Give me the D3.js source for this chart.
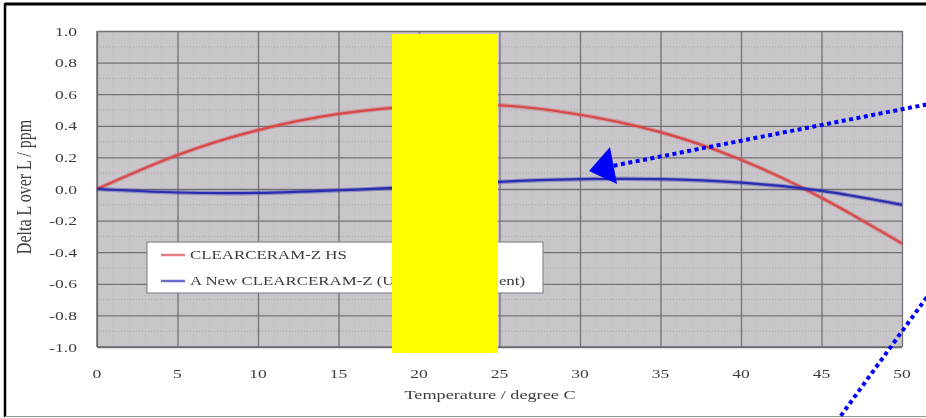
<!DOCTYPE html>
<html>
<head>
<meta charset="utf-8">
<script src="https://cdn.jsdelivr.net/npm/d3@7"></script>
<style>
  html, body { margin: 0; padding: 0; background: #fff; }
  svg { display: block; }
</style>
</head>
<body>
<svg id="chart" width="926" height="418"></svg>
<script>
// Temperature samples (degree C)
const temps = [0, 5, 10, 15, 20, 25, 30, 35, 40, 45, 50];
// Delta L over L (ppm) for each material
const hsValues  = [0, 0.215, 0.373, 0.475, 0.525, 0.53, 0.47, 0.36, 0.185, -0.055, -0.345];
const newValues = [0, -0.022, -0.025, -0.008, 0.015, 0.045, 0.062, 0.062, 0.04, -0.012, -0.1];
const seriesNames = ["CLEARCERAM-Z HS", "A New CLEARCERAM-Z (Under Development)"];
const seriesColors = ["#d84848", "#2c2cb0"];
const xTicks = [0, 5, 10, 15, 20, 25, 30, 35, 40, 45, 50];
const yTicks = [-1.0, -0.8, -0.6, -0.4, -0.2, 0.0, 0.2, 0.4, 0.6, 0.8, 1.0];
const xTitle = "Temperature / degree C";
const yTitle = "Delta L over L / ppm";

const svg = d3.select("#chart");
const plot = { left: 97, right: 902, top: 31, bottom: 347 };

const x = d3.scaleLinear().domain([0, 50]).range([plot.left, plot.right]);
const y = d3.scaleLinear().domain([-1, 1]).range([plot.bottom, plot.top]);

const defs = svg.append("defs");
defs.append("filter").attr("id", "soft")
  .append("feGaussianBlur").attr("stdDeviation", 0.45);

// outer frame
svg.append("line").attr("x1", 5).attr("x2", 926).attr("y1", 4).attr("y2", 4)
  .attr("stroke", "#000").attr("stroke-width", 3);
svg.append("line").attr("x1", 5).attr("x2", 5).attr("y1", 3).attr("y2", 417)
  .attr("stroke", "#000").attr("stroke-width", 2.5);
svg.append("line").attr("x1", 5).attr("x2", 926).attr("y1", 416.5).attr("y2", 416.5)
  .attr("stroke", "#999").attr("stroke-width", 1);

// plot background
svg.append("rect")
  .attr("x", plot.left).attr("y", plot.top)
  .attr("width", plot.right - plot.left).attr("height", plot.bottom - plot.top)
  .attr("fill", "#c9c6cb");

// minor dotted grid
const minorY = d3.range(-0.9, 1.0, 0.2);
const minorX = d3.range(1, 50, 1).filter(d => d % 5 !== 0);
svg.append("g").selectAll("line").data(minorY).join("line")
  .attr("x1", plot.left).attr("x2", plot.right)
  .attr("y1", d => y(d)).attr("y2", d => y(d))
  .attr("stroke", "#aaa7ac").attr("stroke-width", 1).attr("stroke-dasharray", "1 2");
svg.append("g").selectAll("line").data(minorX).join("line")
  .attr("y1", plot.top).attr("y2", plot.bottom)
  .attr("x1", d => x(d)).attr("x2", d => x(d))
  .attr("stroke", "#b8b5ba").attr("stroke-width", 1).attr("stroke-dasharray", "1 3");

// major grid through the library's axes
const gy = svg.append("g").attr("transform", `translate(${plot.left},0)`)
  .call(d3.axisLeft(y).tickValues(yTicks).tickSize(-(plot.right - plot.left)).tickFormat(""));
gy.select(".domain").remove();
gy.selectAll("line").attr("stroke", "#747176").attr("stroke-width", 1.3);

const gx = svg.append("g").attr("transform", `translate(0,${plot.bottom})`)
  .call(d3.axisBottom(x).tickValues(xTicks).tickSize(-(plot.bottom - plot.top)).tickFormat(""));
gx.select(".domain").remove();
gx.selectAll("line").attr("stroke", "#747176").attr("stroke-width", 1.3);

// axis lines
svg.append("line").attr("x1", plot.left).attr("x2", plot.right)
  .attr("y1", plot.bottom).attr("y2", plot.bottom).attr("stroke", "#6c6a6e").attr("stroke-width", 1.5);
svg.append("line").attr("x1", plot.left).attr("x2", plot.left)
  .attr("y1", plot.top).attr("y2", plot.bottom).attr("stroke", "#6c6a6e").attr("stroke-width", 1.5);

// text helper: wide serif lettering
function label(parent, str, px, py, size, anchor, rotate) {
  return parent.append("text")
    .attr("transform", rotate
      ? `translate(${px},${py}) rotate(-90) scale(1,1.35)`
      : `translate(${px},${py}) scale(1.35,1)`)
    .attr("text-anchor", anchor)
    .attr("font-family", "'Liberation Serif', 'Times New Roman', serif")
    .attr("font-size", size)
    .attr("fill", "#3c3c3c")
    .text(str);
}
const textLayer = svg.append("g").attr("filter", "url(#soft)");

// tick labels
const fmt = d3.format(".1f");
yTicks.forEach(v => label(textLayer, fmt(v).replace("\u2212", "-"), 77, y(v) + 4.5, 13, "end"));
xTicks.forEach(v => label(textLayer, String(v), x(v), 378, 13, "middle"));

// axis titles
label(textLayer, xTitle, 490, 399, 13.5, "middle");
label(textLayer, yTitle, 31, 187, 16, "middle", true);

// series lines
const line = d3.line().x(d => x(d[0])).y(d => y(d[1])).curve(d3.curveNatural);
[hsValues, newValues].forEach((vals, i) => {
  const pts = temps.map((t, k) => [t, vals[k]]);
  svg.append("path").datum(pts)
    .attr("d", line).attr("fill", "none")
    .attr("stroke", seriesColors[i]).attr("stroke-opacity", 0.35).attr("stroke-width", 4.5);
  svg.append("path").datum(pts)
    .attr("d", line).attr("fill", "none")
    .attr("stroke", seriesColors[i]).attr("stroke-width", 2.2);
});

// legend
const lg = { x: 147, y: 242, w: 396, h: 51 };
svg.append("rect").attr("x", lg.x).attr("y", lg.y).attr("width", lg.w).attr("height", lg.h)
  .attr("fill", "#fff").attr("stroke", "#8a888c").attr("stroke-width", 1.2);
const legendText = svg.append("g").attr("filter", "url(#soft)");
seriesNames.forEach((name, i) => {
  const ly = lg.y + 13 + i * 26;
  svg.append("line").attr("x1", lg.x + 14).attr("x2", lg.x + 38)
    .attr("y1", ly).attr("y2", ly)
    .attr("stroke", seriesColors[i]).attr("stroke-width", 2.5).attr("stroke-opacity", 0.7);
  label(legendText, name, lg.x + 43, ly + 4, 12.5, "start");
});

// covering block
svg.append("rect").attr("x", 392).attr("y", 34).attr("width", 106).attr("height", 319)
  .attr("fill", "#ffff00");

// dotted pointer arrow
svg.append("line").attr("x1", 934).attr("y1", 103).attr("x2", 612).attr("y2", 166)
  .attr("stroke", "#0000ff").attr("stroke-width", 4).attr("stroke-dasharray", "4 3.5");
svg.append("polygon").attr("points", "589,171 610,147 617,184").attr("fill", "#0000ff");

// second dotted pointer line
svg.append("line").attr("x1", 832).attr("y1", 428).attr("x2", 940).attr("y2", 279)
  .attr("stroke", "#0000ff").attr("stroke-width", 4).attr("stroke-dasharray", "4 3.5");
</script>
</body>
</html>
